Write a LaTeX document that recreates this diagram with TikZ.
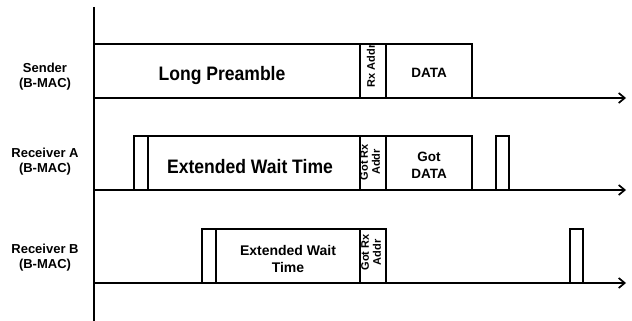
\documentclass[tikz,border=0pt]{standalone}
\usepackage{fontspec}
\setmainfont{Liberation Sans}
\newfontfamily\condsans[FakeStretch=0.9]{Liberation Sans}
\usetikzlibrary{arrows.meta}

\begin{document}
\begin{tikzpicture}[x=1pt,y=-1pt,line width=1.4pt,
	lbl/.style={align=center,font=\bfseries\fontsize{13}{14.5}\selectfont},
	big/.style={font=\condsans\bfseries\fontsize{19.5}{22}\selectfont},
	vert/.style={rotate=90,align=center,inner sep=0pt,font=\bfseries\fontsize{11}{12}\selectfont},
	timeline/.style={line width=1.7pt,-{Straight Barb[length=6pt,width=10pt]}}]
	\def\xa{94}
	\def\xr{360}
	\def\xd{386}
	\def\xe{472}

	\useasboundingbox (0,0) rectangle (632,321);

	% axis
	\draw[line width=1.7pt] (\xa,7) -- (\xa,321);

	% sender
	\draw (\xa,44) rectangle (\xr,98);
	\draw (\xr,44) rectangle (\xd,98);
	\draw (\xd,44) rectangle (\xe,98);
	\draw (222,80.7) node[big,anchor=base] (pre) {Long Preamble};
	\draw (371,66) node[vert] (rx) {Rx Addr};
	\draw (429,72.5) node[lbl,font=\bfseries\fontsize{13.5}{15}\selectfont] (data) {DATA};
	\draw (45,75.5) node[lbl,text depth=0pt] (snd) {Sender\\(B-MAC)};
	\draw[timeline] (\xa,98) -- (626,98);

	% receiver A
	\draw (134,136) rectangle (148,190);
	\draw (148,136) rectangle (\xr,190);
	\draw (\xr,136) rectangle (\xd,190);
	\draw (\xd,136) rectangle (\xe,190);
	\draw (496,136) rectangle (509,190);
	\draw (250,173.3) node[big,anchor=base] (waitA) {Extended Wait Time};
	\draw (370,162) node[vert] (gotA) {Got Rx\\Addr};
	\draw (429,165.4) node[lbl,font=\bfseries\fontsize{13.5}{17}\selectfont] (gotdata) {Got\\DATA};
	\draw (45,161.5) node[lbl] (recA) {Receiver A\\(B-MAC)};
	\draw[timeline] (\xa,190) -- (626,190);

	% receiver B
	\draw (202,229) rectangle (216,283);
	\draw (216,229) rectangle (\xr,283);
	\draw (\xr,229) rectangle (\xd,283);
	\draw (570,229) rectangle (583,283);
	\draw (288,259.3) node[lbl,font=\bfseries\fontsize{14}{16.7}\selectfont] (waitB) {Extended Wait\\Time};
	\draw (371,252.5) node[vert] (gotB) {Got Rx\\Addr};
	\draw (45,257.5) node[lbl] (recB) {Receiver B\\(B-MAC)};
	\draw[timeline] (\xa,283) -- (626,283);
\end{tikzpicture}
\end{document}
